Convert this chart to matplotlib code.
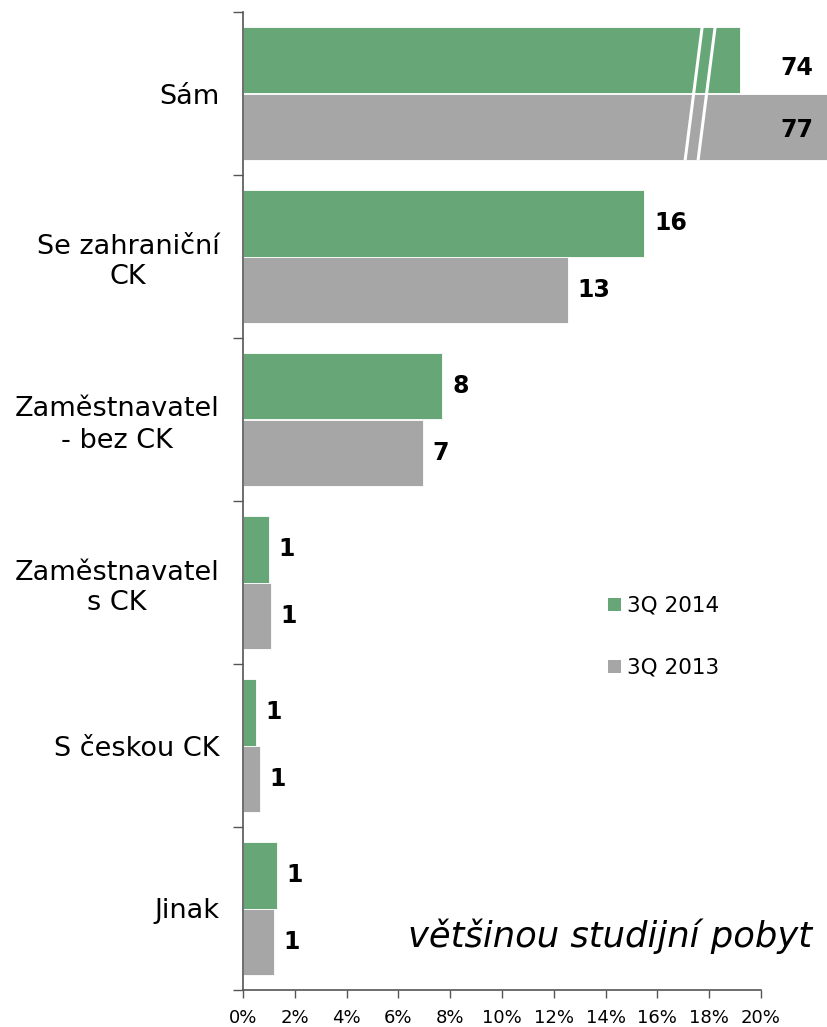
import numpy as np
import matplotlib.pyplot as plt
from matplotlib.patches import Patch

# kategorie odshora dolu
kategorie = ["Sám", "Se zahraniční\nCK", "Zaměstnavatel\n- bez CK",
             "Zaměstnavatel\ns CK", "S českou CK", "Jinak"]
# delky sloupcu na ose (Sám je zalomeny)
hodnoty_2014 = [19.2, 15.5, 7.7, 1.0, 0.5, 1.3]
hodnoty_2013 = [22.6, 12.55, 6.95, 1.08, 0.66, 1.18]
# popisky sloupcu
popisky_2014 = ["74", "16", "8", "1", "1", "1"]
popisky_2013 = ["77", "13", "7", "1", "1", "1"]
xticky = [0, 2, 4, 6, 8, 10, 12, 14, 16, 18, 20]

zelena = "#67a777"
seda = "#a6a6a6"
osa = "#555555"

fig = plt.figure(figsize=(8.27, 10.27), dpi=100)
ax = fig.add_axes([243 / 827, 1 - 990 / 1027, 518 / 827, 978 / 1027])

n = len(kategorie)
y = np.arange(n)
h = 0.41
ax.barh(y - h / 2, hodnoty_2014, height=h, color=zelena, edgecolor="white",
        linewidth=0.6, clip_on=False, zorder=2)
ax.barh(y + h / 2, hodnoty_2013, height=h, color=seda, edgecolor="white",
        linewidth=0.6, clip_on=False, zorder=2)

ax.set_ylim(n - 0.5, -0.5)
ax.set_xlim(0, 20)

# popisky hodnot
for i in range(n):
    if i == 0:
        ax.text(21.4, y[i] - h / 2 + 0.05, popisky_2014[i], ha="center", va="center",
                fontsize=17, fontweight="bold", clip_on=False)
        ax.text(21.4, y[i] + h / 2 + 0.02, popisky_2013[i], ha="center", va="center",
                fontsize=17, fontweight="bold", clip_on=False, zorder=3)
    else:
        ax.annotate(popisky_2014[i], (hodnoty_2014[i], y[i] - h / 2),
                    xytext=(7, 0), textcoords="offset points", ha="left",
                    va="center", fontsize=17, fontweight="bold")
        ax.annotate(popisky_2013[i], (hodnoty_2013[i], y[i] + h / 2),
                    xytext=(7, 0), textcoords="offset points", ha="left",
                    va="center", fontsize=17, fontweight="bold")

# znacka preruseni u "Sám"
for x0 in [17.4, 17.9]:
    ax.plot([x0 - 0.33, x0 + 0.33], [y[0] + h, y[0] - h], color="white",
            linewidth=2.2, zorder=4, solid_capstyle="butt")

# osa y - ticky na hranicich kategorii, popisky uprostred
ax.set_yticks(np.arange(-0.5, n, 1.0))
ax.set_yticklabels([])
ax.tick_params(axis="y", which="major", length=7, width=1, color=osa)
ax.set_yticks(y, minor=True)
ax.set_yticklabels(kategorie, minor=True, fontsize=19.5)
ax.tick_params(axis="y", which="minor", length=0, pad=17)
for lbl in ax.get_yticklabels(minor=True):
    lbl.set_multialignment("center")
    lbl.set_linespacing(1.25)

ax.set_xticks(xticky)
ax.set_xticklabels([f"{t}%" for t in xticky], fontsize=13)
ax.tick_params(axis="x", length=6, width=1, color=osa, pad=8)

for s in ["top", "right"]:
    ax.spines[s].set_visible(False)
for s in ["left", "bottom"]:
    ax.spines[s].set_color(osa)
    ax.spines[s].set_linewidth(1.2)

ruce = [Patch(facecolor=zelena, label="3Q 2014"),
        Patch(facecolor=seda, label="3Q 2013")]
ax.legend(handles=ruce, loc="upper left", bbox_to_anchor=(608 / 827, 1 - 596 / 1027),
          bbox_transform=fig.transFigure, frameon=False, fontsize=15.5,
          handlelength=0.6, handleheight=0.6, handletextpad=0.3,
          labelspacing=1.95, borderpad=0, borderaxespad=0)

fig.text(408 / 827, 1 - 947 / 1027, "většinou studijní pobyt", fontsize=25.5,
         style="italic", ha="left", va="baseline")

fig.savefig("out.png", dpi=100)
